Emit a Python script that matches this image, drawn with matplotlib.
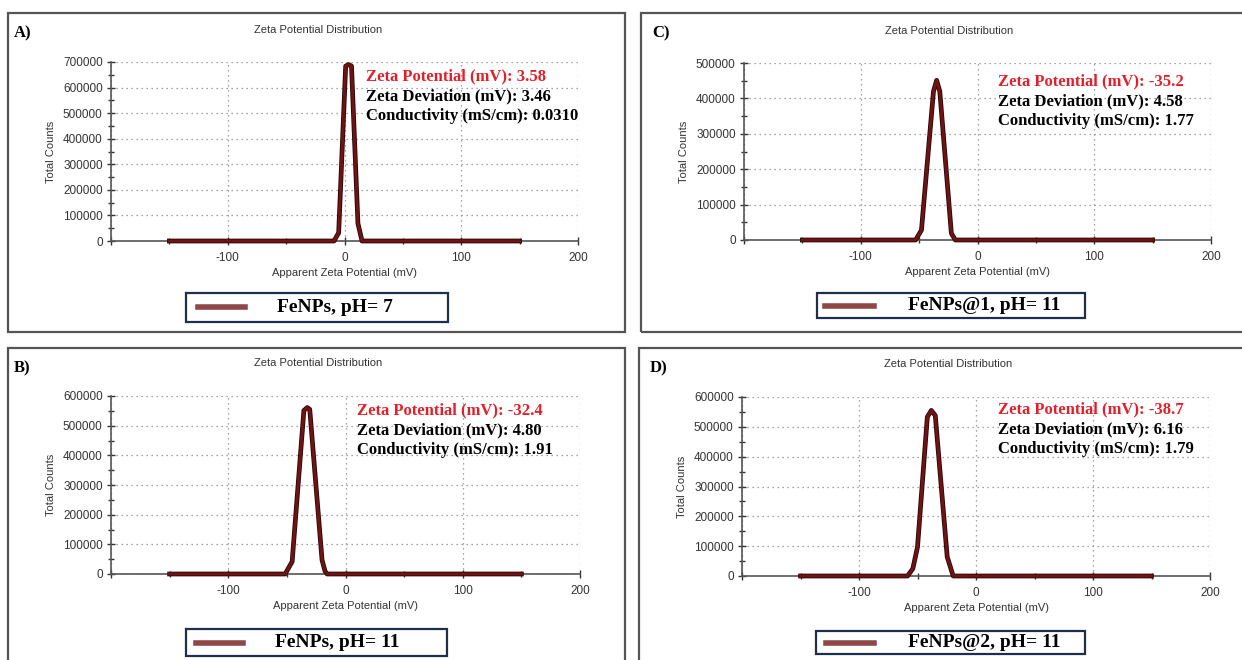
import numpy as np
import matplotlib
matplotlib.use("Agg")
import matplotlib.pyplot as plt
import matplotlib.patheffects as pe
from matplotlib.patches import Rectangle
from matplotlib.lines import Line2D
from matplotlib.ticker import MultipleLocator, FuncFormatter

# ---- data (x = apparent zeta potential, mV) ----
zeta_A = [-150, -9, -5, 1, 3.5, 6, 11.5, 15, 150]
counts_A = [0, 0, 32000, 684000, 690000, 684000, 69000, 0, 0]

zeta_B = [-150, -51.5, -45.5, -35.5, -32.6, -30.5, -20, -17.5, -15.7, 150]
counts_B = [0, 0, 41500, 551000, 561000, 555000, 47000, 10000, 0, 0]

zeta_C = [-150, -53, -48, -37.7, -35, -32.3, -22.4, -19, 150]
counts_C = [0, 0, 28000, 420000, 451000, 420000, 19000, 0, 0]

zeta_D = [-150, -58.5, -54, -50, -41.6, -38.2, -34.8, -24.6, -19.5, 150]
counts_D = [0, 0, 24600, 97000, 533000, 555000, 538000, 64000, 0, 0]

ymax_list = [700000, 600000, 500000, 600000]
panel_tags = ['A)', 'B)', 'C)', 'D)']
sample_names = ['FeNPs, pH= 7', 'FeNPs, pH= 11', 'FeNPs@1, pH= 11', 'FeNPs@2, pH= 11']
zeta_pot = ['3.58', '-32.4', '-35.2', '-38.7']
zeta_dev = ['3.46', '4.80', '4.58', '6.16']
conduct = ['0.0310', '1.91', '1.77', '1.79']

W, H = 1242, 660


def fx(x):
    return x / W


def fy(y):
    return 1 - y / H


# layout in pixels (left, right, top, bottom of axes), plus text anchors
layout = [
    dict(ax=(111, 578, 62, 241), box=(8, 625, 13, 332), title=(318, 30), tag=(14, 33),
         note=(366, 76), leg=(186, 448, 293, 322), line=(198, 245), txt=277),
    dict(ax=(111, 580, 396, 574), box=(8, 625, 348, 680), title=(318, 363), tag=(14, 368),
         note=(357, 410), leg=(186, 447, 629, 656), line=(196, 243), txt=275),
    dict(ax=(744, 1211, 63, 240), box=(641, 1260, 13, 332), title=(949, 31), tag=(652, 33),
         note=(998, 81), leg=(817, 1085, 293, 318), line=(825, 874), txt=908),
    dict(ax=(742, 1210, 397, 576), box=(639, 1260, 348, 680), title=(948, 364), tag=(650, 368),
         note=(998, 409), leg=(816, 1085, 631, 654), line=(826, 874), txt=908),
]

xs = [zeta_A, zeta_B, zeta_C, zeta_D]
ys = [counts_A, counts_B, counts_C, counts_D]

sans = 'Liberation Sans'
serif = 'Liberation Serif'
curve_col = '#6E1414'
leg_line_col = '#8E4646'

fig = plt.figure(figsize=(12.42, 6.6), dpi=100)
fig.patch.set_facecolor('white')

for i, lay in enumerate(layout):
    l, r, t, b = lay['ax']
    ax = fig.add_axes([fx(l), fy(b), (r - l) / W, (b - t) / H])

    ax.plot(xs[i], ys[i], color=curve_col, lw=2.2, clip_on=False, zorder=5,
            path_effects=[pe.Stroke(linewidth=3.4, foreground='#2a0505'), pe.Normal()])

    ax.set_xlim(-200, 200)
    ax.set_ylim(0, ymax_list[i])
    ax.xaxis.set_major_locator(MultipleLocator(100))
    ax.xaxis.set_minor_locator(MultipleLocator(50))
    ax.yaxis.set_major_locator(MultipleLocator(100000))
    ax.yaxis.set_minor_locator(MultipleLocator(50000))
    ax.xaxis.set_major_formatter(FuncFormatter(lambda v, p: '' if v <= -200 else '%d' % v))
    ax.yaxis.set_major_formatter(FuncFormatter(lambda v, p: '%d' % v))

    ax.tick_params(which='major', direction='inout', length=6, width=1, color='#333',
                   labelsize=8.5, labelcolor='#333', pad=3)
    ax.tick_params(axis='x', which='major', pad=5)
    ax.tick_params(which='minor', direction='inout', length=5, width=1, color='#333')
    for lab in ax.get_xticklabels() + ax.get_yticklabels():
        lab.set_family(sans)

    ax.grid(True, which='major', linestyle=(0, (1, 3)), color='#888', lw=0.9)
    for s in ['top', 'right']:
        ax.spines[s].set_visible(False)
    for s in ['left', 'bottom']:
        ax.spines[s].set_color('#555')
        ax.spines[s].set_linewidth(1.2)

    ax.set_xlabel('Apparent Zeta Potential (mV)', family=sans, fontsize=8, color='#333', labelpad=3)
    ax.set_ylabel('Total Counts', family=sans, fontsize=8, color='#333', labelpad=5)

    # panel box
    bl, br, bt, bb = lay['box']
    fig.patches.append(Rectangle((fx(bl), fy(bb)), (br - bl) / W, (bb - bt) / H,
                                 transform=fig.transFigure, fill=False,
                                 edgecolor='#555', lw=1.6))

    fig.text(fx(lay['title'][0]), fy(lay['title'][1]), 'Zeta Potential Distribution',
             family=sans, fontsize=8, color='#333', ha='center', va='center')
    fig.text(fx(lay['tag'][0]), fy(lay['tag'][1]), panel_tags[i],
             family=serif, fontweight='bold', fontsize=12, ha='left', va='center')

    nx, ny = lay['note']
    notes = [('Zeta Potential (mV): ' + zeta_pot[i], '#E3202A'),
             ('Zeta Deviation (mV): ' + zeta_dev[i], 'black'),
             ('Conductivity (mS/cm): ' + conduct[i], 'black')]
    for k, (txt, col) in enumerate(notes):
        fig.text(fx(nx), fy(ny + 20 * k), txt, family=serif, fontweight='bold',
                 fontsize=12, color=col, ha='left', va='center')

    # legend box
    ll, lr, lt, lb = lay['leg']
    fig.patches.append(Rectangle((fx(ll), fy(lb)), (lr - ll) / W, (lb - lt) / H,
                                 transform=fig.transFigure, fill=False,
                                 edgecolor='#1F2E4A', lw=1.6))
    cy = (lt + lb) / 2
    fig.lines.append(Line2D([fx(lay['line'][0]), fx(lay['line'][1])], [fy(cy), fy(cy)],
                            transform=fig.transFigure, color=leg_line_col, lw=4))
    fig.text(fx(lay['txt']), fy(cy), sample_names[i], family=serif, fontweight='bold',
             fontsize=14, ha='left', va='center')

fig.savefig('out.png', dpi=100)
